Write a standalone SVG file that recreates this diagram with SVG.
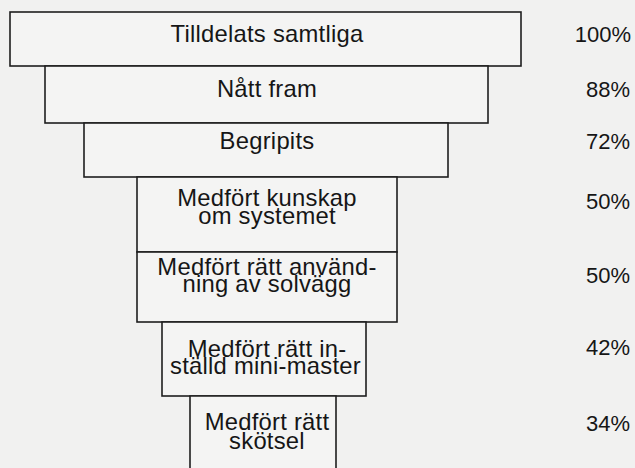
<svg xmlns="http://www.w3.org/2000/svg" width="635" height="468" viewBox="0 0 635 468">
  <style>
    .box { fill: #f4f4f3; stroke: #1e1e1e; stroke-width: 1.6; }
    .lbl { font-family: "Liberation Sans", Arial, Helvetica, sans-serif; font-size: 23.8px; letter-spacing: 0.25px; fill: #161616; text-anchor: middle; }
    .pct { font-family: "Liberation Sans", Arial, Helvetica, sans-serif; font-size: 22px; fill: #161616; text-anchor: end; }
  </style>
  <rect width="635" height="468" fill="#f1f1f0"/>

  <!-- funnel stages, widest at the top -->
  <g id="stage-tilldelats">
    <rect class="box" x="10" y="12" width="511" height="54"/>
    <text class="lbl" x="267" y="42">Tilldelats samtliga</text>
    <text class="pct" x="631" y="42">100%</text>
  </g>

  <g id="stage-natt-fram">
    <rect class="box" x="45" y="66" width="443" height="57"/>
    <text class="lbl" x="267" y="97">Nått fram</text>
    <text class="pct" x="630" y="97">88%</text>
  </g>

  <g id="stage-begripits">
    <rect class="box" x="84" y="123" width="364" height="54"/>
    <text class="lbl" x="267" y="149">Begripits</text>
    <text class="pct" x="630" y="149">72%</text>
  </g>

  <g id="stage-kunskap">
    <rect class="box" x="137" y="177" width="260" height="75"/>
    <text class="lbl" x="267" y="206">Medfört kunskap</text>
    <text class="lbl" x="267" y="223.5">om systemet</text>
    <text class="pct" x="630" y="209">50%</text>
  </g>

  <g id="stage-anvandning">
    <rect class="box" x="137" y="252" width="260" height="70"/>
    <text class="lbl" x="267" y="274.5">Medfört rätt använd-</text>
    <text class="lbl" x="267" y="292">ning av solvägg</text>
    <text class="pct" x="630" y="283">50%</text>
  </g>

  <g id="stage-mini-master">
    <rect class="box" x="162" y="322" width="204" height="74"/>
    <text class="lbl" x="267" y="356.5">Medfört rätt in-</text>
    <text class="lbl" x="265.5" y="373.5">ställd mini-master</text>
    <text class="pct" x="630" y="355">42%</text>
  </g>

  <g id="stage-skotsel">
    <path class="box" d="M190,470 V396 H336 V470"/>
    <text class="lbl" x="267" y="430">Medfört rätt</text>
    <text class="lbl" x="267" y="449">skötsel</text>
    <text class="pct" x="630" y="431">34%</text>
  </g>
</svg>
